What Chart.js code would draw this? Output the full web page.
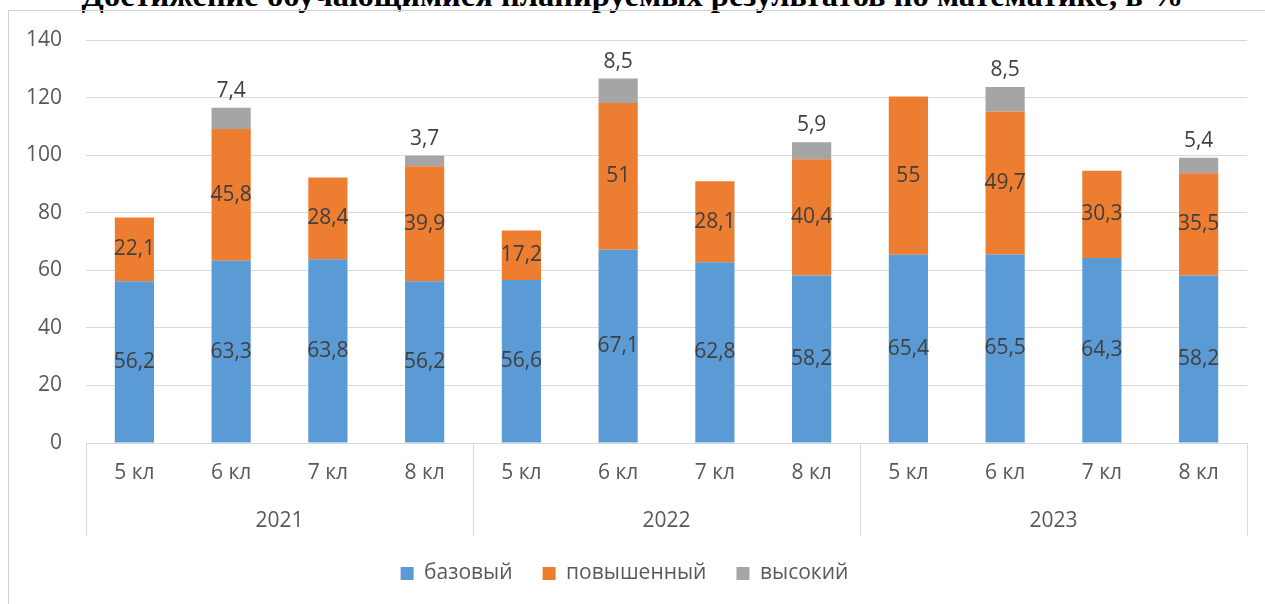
<!DOCTYPE html>
<html lang="ru">
<head>
  <meta charset="UTF-8">
  <title>Достижение обучающимися планируемых результатов по математике</title>
  <script src="https://cdn.jsdelivr.net/npm/chart.js"></script>
  <style>
    body { margin: 0; width: 1265px; height: 604px; overflow: hidden; background: #fff; position: relative; }
    #frame { position: absolute; left: 8px; top: 10px; width: 1400px; height: 800px; border: 1px solid #d0d0d0; }
    #title { position: absolute; left: 0; top: -21px; width: 1265px; text-align: center;
             font: bold 32.5px/1 "Liberation Serif", "Times New Roman", serif; color: #000; white-space: nowrap; }
    #chart { position: absolute; left: 0; top: 0; }
  </style>
</head>
<body>
  <div id="title">Достижение обучающимися планируемых результатов по математике, в %</div>
  <div id="frame"></div>
  <canvas id="chart" width="1265" height="604"></canvas>

  <script>
    const grades = ['5 кл', '6 кл', '7 кл', '8 кл', '5 кл', '6 кл', '7 кл', '8 кл', '5 кл', '6 кл', '7 кл', '8 кл'];
    const years = ['2021', '2022', '2023'];
    const basic = [56.2, 63.3, 63.8, 56.2, 56.6, 67.1, 62.8, 58.2, 65.4, 65.5, 64.3, 58.2];
    const advanced = [22.1, 45.8, 28.4, 39.9, 17.2, 51, 28.1, 40.4, 55, 49.7, 30.3, 35.5];
    const high = [null, 7.4, null, 3.7, null, 8.5, null, 5.9, null, 8.5, null, 5.4];
    const yTicks = [0, 20, 40, 60, 80, 100, 120, 140];

    const FONT = '"Open Sans", "DejaVu Sans", sans-serif';
    const SIZE = 21;
    const GRID = '#d9d9d9';
    const TEXT = '#595959';

    // подписи значений: внутри сегмента по центру, у "высокий" - над столбцом
    const barLabels = {
      id: 'barLabels',
      afterDatasetsDraw(chart) {
        const ctx = chart.ctx;
        ctx.save();
        ctx.font = SIZE + 'px ' + FONT;
        ctx.fillStyle = '#404040';
        ctx.textAlign = 'center';
        ctx.textBaseline = 'middle';
        chart.data.datasets.forEach((ds, i) => {
          const meta = chart.getDatasetMeta(i);
          meta.data.forEach((bar, j) => {
            const v = ds.data[j];
            if (v == null) return;
            const text = String(v).replace('.', ',');
            const y = i === 2 ? bar.y - 17 : (bar.y + bar.base) / 2;
            ctx.fillText(text, bar.x, y);
          });
        });
        ctx.restore();
      }
    };

    function draw() {
      const ctx = document.getElementById('chart').getContext('2d');
      new Chart(ctx, {
        type: 'bar',
        data: {
          labels: grades,
          datasets: [
            { label: 'базовый', data: basic, backgroundColor: '#5b9bd5' },
            { label: 'повышенный', data: advanced, backgroundColor: '#ed7d31' },
            { label: 'высокий', data: high, backgroundColor: '#a5a5a5' }
          ]
        },
        options: {
          responsive: false,
          animation: false,
          devicePixelRatio: 1,
          categoryPercentage: 1,
          barPercentage: 0.405,
          layout: { padding: { left: 2, right: 18, top: 40, bottom: 10 } },
          plugins: {
            tooltip: { enabled: false },
            legend: {
              position: 'bottom',
              labels: {
                boxWidth: 13, boxHeight: 13, padding: 30,
                color: TEXT, font: { family: FONT, size: SIZE }
              }
            }
          },
          scales: {
            y: {
              stacked: true,
              min: 0, max: 140,
              afterBuildTicks: s => { s.ticks = yTicks.map(v => ({ value: v })); },
              grid: { color: GRID, drawTicks: false },
              border: { display: false },
              ticks: { color: TEXT, padding: 24, font: { family: FONT, size: SIZE } }
            },
            x: {
              stacked: true,
              grid: {
                offset: true, drawOnChartArea: false, tickLength: 42,
                color: c => (c.index === undefined || c.index % 4 === 0) ? GRID : 'rgba(0,0,0,0)'
              },
              border: { display: true, color: GRID },
              ticks: {
                color: TEXT, padding: -24, maxRotation: 0, autoSkip: false,
                font: { family: FONT, size: SIZE, lineHeight: '24px' },
                // пустая вторая строка держит высоту оси под длинные засечки
                callback: (v, i) => [grades[i], '']
              }
            },
            x2: {
              type: 'category',
              labels: years,
              position: 'bottom',
              offset: true,
              grid: { offset: true, drawOnChartArea: false, tickLength: 51, color: GRID },
              border: { display: false },
              ticks: {
                color: TEXT, padding: -28.5, maxRotation: 0,
                font: { family: FONT, size: SIZE, lineHeight: '27px' },
                callback: (v, i) => [years[i], '']
              }
            }
          }
        },
        plugins: [barLabels]
      });
    }

    document.fonts.load(SIZE + 'px "Open Sans"').then(draw, draw);
  </script>
</body>
</html>
